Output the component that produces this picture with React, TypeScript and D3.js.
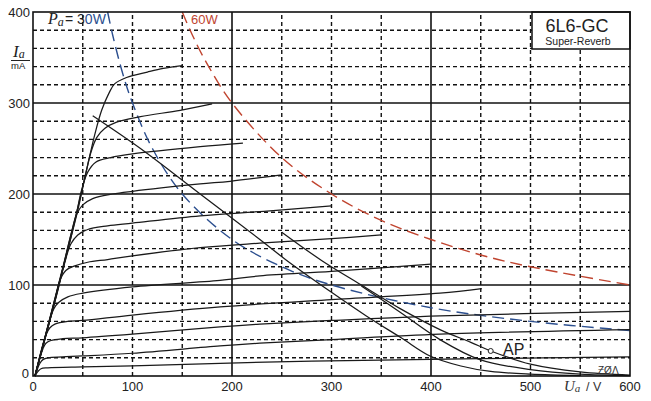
import React from "react";
import * as d3 from "d3";

const W = 651;
const H = 401;

// Axis ticks
const xTicks = [0, 100, 200, 300, 400, 500, 600];
const yTicks = [0, 100, 200, 300, 400];
const xMinor = [50, 100, 150, 250, 300, 350, 450, 500, 550];
const xMajor = [200, 400];
const yMinor = [20, 40, 60, 80, 120, 140, 160, 180, 220, 240, 260, 280, 320, 340, 360, 380];
const yMajor = [100, 200, 300];

// Anode characteristics (Ua in V, Ia in mA), one per grid voltage
const curve1 = [[2,0],[25,98],[45,185],[55,232],[62,265],[69,292],[76,310],[82,321],[94,328],[115,334],[131,338],[150,341]];
const curve2 = [[2,0],[25,97],[45,182],[53,222],[58,245],[64,262],[72,272],[84,279],[108,285],[148,292],[180,299]];
const curve3 = [[2,0],[25,96],[42,170],[49,205],[55,224],[63,235],[78,240],[100,244],[168,252],[211,256]];
const curve4 = [[2,0],[25,95],[38,155],[44,178],[50,188],[60,195],[80,200],[100,203],[168,211],[198,214],[250,221]];
const curve5 = [[2,0],[24,90],[32,125],[38,145],[45,155],[55,161],[75,165],[100,168],[168,176],[232,181],[300,187]];
const curve6 = [[2,0],[22,83],[27,105],[33,116],[42,121],[55,125],[75,128],[100,132],[168,141],[228,146],[300,151],[350,155]];
const curve7 = [[2,0],[17,62],[21,74],[26,81],[35,87],[50,91],[100,98],[188,105],[228,110],[300,115],[400,123]];
const curve8 = [[2,0],[13,45],[17,53],[22,57],[35,60],[50,61],[100,67],[188,76],[300,84],[409,91],[451,96]];
const curve9 = [[2,0],[10,30],[13,36],[18,39],[30,41],[50,42],[100,46],[188,54],[228,57],[300,61],[409,66],[600,71]];
const curve10 = [[2,0],[7,14],[10,18],[15,20],[30,21],[50,22],[100,25],[188,33],[228,36],[300,40],[409,46],[600,51]];
const curve11 = [[2,0],[5,5],[8,8],[15,9],[50,10],[100,11],[188,14],[315,17],[450,19],[600,21]];
const plateCurves = [curve1, curve2, curve3, curve4, curve5, curve6, curve7, curve8, curve9, curve10, curve11];

// Load curves
const load1 = [[60,286],[108,250],[168,200],[228,150],[255,127],[300,92],[335,66],[370,42],[399,22],[430,11],[460,5],[500,2],[550,0.5]];
const load2 = [[250,158],[290,127],[330,100],[369,74],[409,51],[440,37],[460,27.5],[500,13],[550,4.5],[600,1]];
const load3 = [[330,99],[369,70],[409,40],[449,18],[500,7],[550,2],[600,0.5]];
const loadCurves = [load1, load2, load3];

// Power limits
const p30 = [[75,400],[80,375],[90,333],[100,300],[120,250],[150,200],[200,150],[250,120],[300,100],[400,75],[500,60],[600,50]];
const p60 = [[150,400],[160,375],[175,343],[200,300],[250,240],[300,200],[350,171],[400,150],[450,133],[500,120],[600,100]];

const AP = [460, 27.5];

const x = d3.scaleLinear().domain([0, 600]).range([33, 630]);
const y = d3.scaleLinear().domain([0, 400]).range([376, 12]);

const line = d3
  .line<number[]>()
  .x((d) => x(d[0]))
  .y((d) => y(d[1]))
  .curve(d3.curveCatmullRom.alpha(0.5));

const SANS = "'Liberation Sans', Arial, sans-serif";
const SERIF = "'Liberation Serif', 'DejaVu Serif', serif";
const BLUE = "#2c4f8f";
const RED = "#c0442f";

export default function App() {
  return (
    <div style={{ position: "absolute", left: 0, top: 0 }}>
      <svg width={W} height={H} style={{ display: "block", background: "#fff" }}>
        {/* grid */}
        <g stroke="#111" fill="none">
          {xMinor.map((v) => (
            <line key={"xm" + v} x1={x(v)} x2={x(v)} y1={y(0)} y2={y(400)} strokeWidth={1.4} strokeDasharray="4,3" />
          ))}
          {yMinor.map((v) => (
            <line key={"ym" + v} x1={x(0)} x2={x(600)} y1={y(v)} y2={y(v)} strokeWidth={1.4} strokeDasharray="4,3" />
          ))}
          {xMajor.map((v) => (
            <line key={"xM" + v} x1={x(v)} x2={x(v)} y1={y(0)} y2={y(400)} strokeWidth={1.6} />
          ))}
          {yMajor.map((v) => (
            <line key={"yM" + v} x1={x(0)} x2={x(600)} y1={y(v)} y2={y(v)} strokeWidth={1.6} />
          ))}
        </g>

        {/* title box */}
        <rect x={532} y={y(400)} width={x(600) - 532} height={49 - y(400)} fill="#fff" stroke="#111" strokeWidth={1.5} />
        <text x={577} y={32} fontFamily={SANS} fontSize={18} textAnchor="middle" fill="#222">6L6-GC</text>
        <text x={578} y={45} fontFamily={SANS} fontSize={10.5} textAnchor="middle" fill="#222">Super-Reverb</text>

        {/* power limit hyperbolas */}
        <path d={line(p30) || ""} fill="none" stroke={BLUE} strokeWidth={1.4} strokeDasharray="12,6" />
        <path d={line(p60) || ""} fill="none" stroke={RED} strokeWidth={1.4} strokeDasharray="12,6" />

        {/* plate curves */}
        <g fill="none" stroke="#1a1a1a" strokeWidth={1.25}>
          {plateCurves.map((c, i) => (
            <path key={"c" + i} d={line(c as number[][]) || ""} />
          ))}
          {loadCurves.map((c, i) => (
            <path key={"l" + i} d={line(c as number[][]) || ""} />
          ))}
        </g>

        {/* frame */}
        <rect x={x(0)} y={y(400)} width={x(600) - x(0)} height={y(0) - y(400)} fill="none" stroke="#111" strokeWidth={1.6} />

        {/* operating point */}
        <circle cx={x(AP[0])} cy={y(AP[1])} r={2.5} fill="#fff" stroke="#222" strokeWidth={1} />
        <text x={503} y={355} fontFamily={SANS} fontSize={16} fill="#222">AP</text>

        {/* y tick labels */}
        {yTicks.map((v) => (
          <text key={"yt" + v} x={v === 0 ? 29 : 30} y={v === 0 ? 378 : y(v) + 4.5} fontFamily={SANS} fontSize={13} textAnchor="end" fill="#222">
            {v}
          </text>
        ))}
        {/* x tick labels */}
        {xTicks.map((v) => (
          <text key={"xt" + v} x={x(v)} y={391} fontFamily={SANS} fontSize={13} textAnchor="middle" fill="#222">
            {v}
          </text>
        ))}

        {/* axis titles */}
        <text x={13} y={57} fontFamily={SERIF} fontStyle="italic" fontSize={17} fill="#222">
          I<tspan fontSize={12} dy={1}>a</tspan>
        </text>
        <line x1={11} x2={30} y1={60.5} y2={60.5} stroke="#222" strokeWidth={1} />
        <text x={11} y={69} fontFamily={SANS} fontSize={9.5} fill="#222">mA</text>

        <text x={564} y={391} fontFamily={SERIF} fontStyle="italic" fontSize={15} fill="#333">
          U<tspan fontSize={11} dy={1}>a</tspan>
        </text>
        <text x={586} y={391} fontFamily={SANS} fontSize={12.5} fill="#333">/ V</text>

        {/* power labels */}
        <text x={48} y={24} fontFamily={SERIF} fontStyle="italic" fontSize={16} fill="#222">
          P<tspan fontSize={12} dy={2}>a</tspan>
        </text>
        <text x={65} y={24} fontFamily={SANS} fontSize={14} fill="#222">
          = 3<tspan fill={BLUE}>0W</tspan>
        </text>
        <text x={191} y={24} fontFamily={SANS} fontSize={13} fill={RED}>60W</text>

        <text x={598} y={374} fontFamily={SANS} fontSize={10} fill="#333">ƵØΛ</text>
      </svg>
    </div>
  );
}
